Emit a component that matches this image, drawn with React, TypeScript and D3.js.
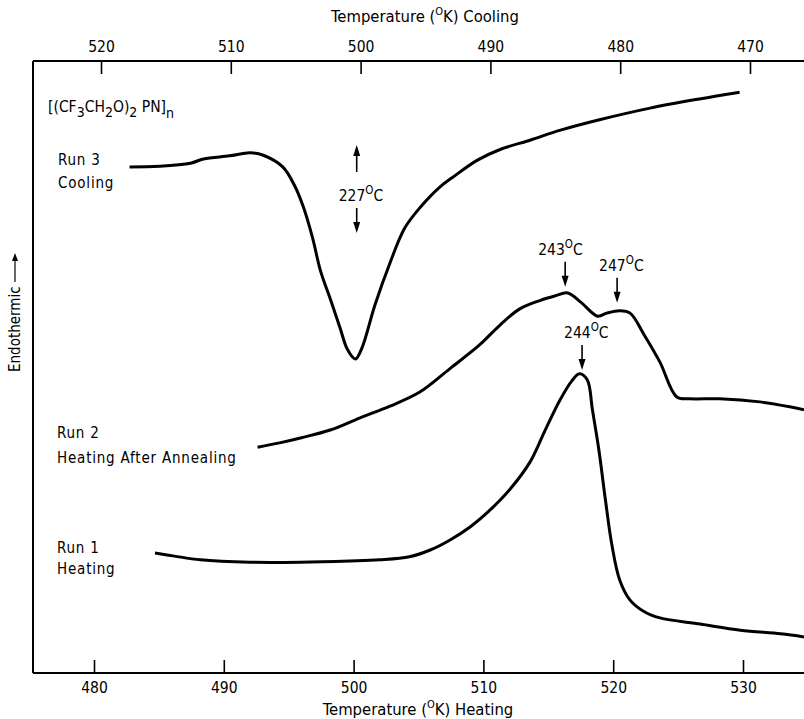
import React, { useEffect, useRef } from "react";
import * as d3 from "d3";

const W = 804;
const H = 719;

// tick values on the two temperature axes
const heatingTicks = [480, 490, 500, 510, 520, 530];
const coolingTicks = [520, 510, 500, 490, 480, 470];

// Run 3, cooling (read on the top axis, K)
const run3Temp = [517.8, 515.5, 513.1, 512.1, 510.1, 508.5, 507.5, 506.0, 505.1, 504.4, 503.7, 503.1, 502.3, 501.6, 501.0, 500.4, 499.9, 498.9, 497.7, 496.6, 495.4, 493.9, 492.9, 491.0, 489.3, 486.9, 484.6, 481.6, 477.7, 473.9, 470.8];
const run3Signal = [82.7, 82.8, 83.3, 84.0, 84.5, 85.0, 84.6, 82.7, 79.7, 76.1, 71.1, 65.8, 60.9, 56.5, 52.8, 51.3, 53.1, 60.1, 67.2, 72.7, 76.1, 79.4, 81.0, 83.8, 85.5, 87.1, 88.7, 90.4, 92.3, 93.8, 94.9];

// Run 2, heating after annealing (bottom axis, K)
const run2Temp = [492.6, 494.3, 495.9, 498.2, 500.5, 502.8, 505.1, 507.4, 509.7, 511.3, 512.8, 514.4, 515.5, 516.5, 517.5, 518.8, 519.5, 520.5, 521.3, 522.4, 523.6, 524.9, 525.9, 528.2, 531.3, 533.6, 534.7];
const run2Signal = [36.9, 37.6, 38.4, 39.7, 41.7, 43.6, 45.9, 49.7, 53.6, 56.9, 59.5, 60.9, 61.6, 62.1, 60.6, 58.3, 58.8, 59.2, 58.8, 55.2, 50.8, 45.1, 44.8, 44.8, 44.3, 43.5, 43.0];

// Run 1, heating (bottom axis, K)
const run1Temp = [484.7, 486.2, 488.2, 492.0, 495.9, 499.7, 502.0, 504.3, 505.9, 507.4, 509.0, 510.5, 512.0, 513.6, 514.7, 515.9, 516.8, 517.4, 518.0, 518.4, 518.9, 519.4, 519.9, 520.5, 521.3, 522.4, 523.6, 526.7, 529.8, 532.9, 534.7];
const run1Signal = [19.6, 19.1, 18.5, 18.1, 18.1, 18.3, 18.5, 19.0, 20.1, 21.7, 23.9, 26.6, 29.9, 34.5, 39.4, 44.6, 47.7, 48.9, 47.9, 43.0, 36.4, 28.3, 20.9, 15.2, 11.9, 10.0, 9.0, 8.0, 7.0, 6.4, 5.9];

// peak annotations
const peakLabels = ["227", "243", "247", "244"];
const peakAxis = ["cool", "heat", "heat", "heat"];
const peakTemp = [500.3, 516.3, 520.3, 517.6];
const peakArrowTip = [71.9, 63.1, 60.5, 49.5];

const FONT = "'DejaVu Sans Condensed', 'DejaVu Sans', sans-serif";

const margin = { left: 33, top: 61, bottom: 673 };

export default function App() {
  const axisRef = useRef<SVGGElement>(null);

  const xHeat = d3.scaleLinear().domain([480, 530]).range([94, 743]);
  const xCool = d3.scaleLinear().domain([520, 470]).range([101, 750]);
  const y = d3.scaleLinear().domain([0, 100]).range([margin.bottom, margin.top]);

  useEffect(() => {
    const g = d3.select(axisRef.current);
    g.selectAll("*").remove();

    const bottom = g
      .append("g")
      .attr("transform", `translate(0,${margin.bottom})`)
      .call(d3.axisBottom(xHeat).tickValues(heatingTicks).tickSize(-13).tickSizeOuter(0).tickPadding(9).tickFormat(d3.format("d")));
    const top = g
      .append("g")
      .attr("transform", `translate(0,${margin.top})`)
      .call(d3.axisTop(xCool).tickValues(coolingTicks).tickSize(-13).tickSizeOuter(0).tickPadding(9).tickFormat(d3.format("d")));

    [bottom, top].forEach((a) => {
      a.select(".domain").remove();
      a.selectAll("line").attr("stroke", "#000").attr("stroke-width", 1.6);
      a.selectAll("text").attr("font-family", FONT).attr("font-size", 15.5).attr("fill", "#000");
    });
  }, []);

  const line = d3
    .line<[number, number]>()
    .x((d) => d[0])
    .y((d) => d[1])
    .curve(d3.curveCatmullRom.alpha(0.5));

  const run3 = line(run3Temp.map((t, i) => [xCool(t), y(run3Signal[i])]));
  const run2 = line(run2Temp.map((t, i) => [xHeat(t), y(run2Signal[i])]));
  const run1 = line(run1Temp.map((t, i) => [xHeat(t), y(run1Signal[i])]));

  const arrowDown = (x: number, y0: number, y1: number, key: string) => (
    <g key={key}>
      <line x1={x} x2={x} y1={y0} y2={y1 - 6} stroke="#000" strokeWidth={1.6} />
      <path d={`M${x - 3.5},${y1 - 11} L${x + 3.5},${y1 - 11} L${x},${y1} Z`} fill="#000" />
    </g>
  );

  return (
    <svg width={W} height={H} style={{ position: "absolute", left: 0, top: 0, background: "#fff" }}>
      <rect width={W} height={H} fill="#fff" />
      {/* frame */}
      <line x1={margin.left} x2={W} y1={margin.top} y2={margin.top} stroke="#000" strokeWidth={2} />
      <line x1={margin.left} x2={W} y1={margin.bottom} y2={margin.bottom} stroke="#000" strokeWidth={2} />
      <line x1={margin.left} x2={margin.left} y1={margin.top} y2={margin.bottom} stroke="#000" strokeWidth={2} />
      <g ref={axisRef} />

      {/* axis titles */}
      <text x={425} y={22} fontFamily={FONT} fontSize={16.5} textAnchor="middle">
        Temperature (<tspan fontSize={11} dy={-7}>O</tspan><tspan dy={7}>K) Cooling</tspan>
      </text>
      <text x={418} y={715} fontFamily={FONT} fontSize={16.5} textAnchor="middle">
        Temperature (<tspan fontSize={11} dy={-7}>O</tspan><tspan dy={7}>K) Heating</tspan>
      </text>

      {/* y label */}
      <g transform="translate(20,372) rotate(-90)">
        <text x={0} y={0} fontFamily={FONT} fontSize={15}>Endothermic</text>
        <line x1={90} x2={112} y1={-5} y2={-5} stroke="#000" strokeWidth={1.2} />
        <path d="M119,-5 L111,-8 L111,-2 Z" fill="#000" />
      </g>

      {/* curves */}
      <path d={run3 ?? ""} fill="none" stroke="#000" strokeWidth={3} strokeLinejoin="round" />
      <path d={run2 ?? ""} fill="none" stroke="#000" strokeWidth={3} strokeLinejoin="round" />
      <path d={run1 ?? ""} fill="none" stroke="#000" strokeWidth={3} strokeLinejoin="round" />

      {/* labels */}
      <text x={48} y={112} fontFamily={FONT} fontSize={15.5}>
        [(CF<tspan fontSize={14} dy={5}>3</tspan><tspan dy={-5}>CH</tspan><tspan fontSize={14} dy={5}>2</tspan><tspan dy={-5}>O)</tspan><tspan fontSize={14} dy={5}>2</tspan><tspan dy={-5}> PN]</tspan><tspan fontSize={14} dy={6}>n</tspan>
      </text>
      <text fontFamily={FONT} fontSize={15} letterSpacing={0.8}>
        <tspan x={58} y={165}>Run 3</tspan>
        <tspan x={58} y={188}>Cooling</tspan>
        <tspan x={57} y={438}>Run 2</tspan>
        <tspan x={57} y={463}>Heating After Annealing</tspan>
        <tspan x={57} y={553}>Run 1</tspan>
        <tspan x={57} y={574}>Heating</tspan>
      </text>

      {/* peak annotations */}
      {peakLabels.map((lab, i) => {
        const x = peakAxis[i] === "cool" ? xCool(peakTemp[i]) : xHeat(peakTemp[i]);
        const tip = y(peakArrowTip[i]);
        const textY = tip - 32;
        return (
          <g key={lab}>
            <text x={x - (i === 1 ? 27 : 18)} y={textY} fontFamily={FONT} fontSize={15.5}>
              {lab}<tspan fontSize={11.5} dy={-7}>O</tspan><tspan dy={7}>C</tspan>
            </text>
            {arrowDown(x, tip - 25, tip, "a" + lab)}
            {peakAxis[i] === "cool" && (
              <g>
                <line x1={x} x2={x} y1={tip - 61} y2={tip - 82} stroke="#000" strokeWidth={1.6} />
                <path d={`M${x - 3.5},${tip - 77} L${x + 3.5},${tip - 77} L${x},${tip - 88} Z`} fill="#000" />
              </g>
            )}
          </g>
        );
      })}
    </svg>
  );
}
